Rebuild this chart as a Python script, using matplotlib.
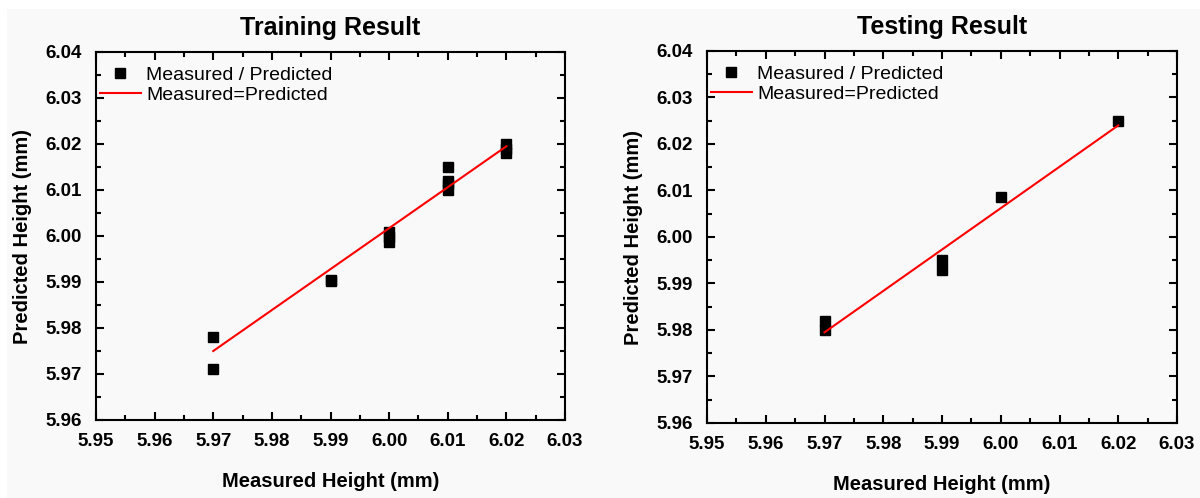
import matplotlib.pyplot as plt
from matplotlib.patches import Rectangle
from matplotlib.ticker import MultipleLocator, FormatStrFormatter

plt.rcParams['font.family'] = ['Liberation Sans', 'DejaVu Sans']

# training data
train_measured = [5.97, 5.97, 5.99, 5.99, 6.00, 6.00, 6.00, 6.01, 6.01, 6.01, 6.01, 6.02, 6.02, 6.02]
train_predicted = [5.978, 5.971, 5.9905, 5.9903, 6.0008, 5.9998, 5.9988, 6.015, 6.012, 6.0112, 6.010, 6.020, 6.019, 6.018]
train_fit_x = [5.97, 6.02]
train_fit_y = [5.975, 6.0195]

# testing data
test_measured = [5.97, 5.97, 5.99, 5.99, 6.00, 6.02]
test_predicted = [5.982, 5.980, 5.995, 5.993, 6.0085, 6.025]
test_fit_x = [5.97, 6.02]
test_fit_y = [5.9795, 6.024]

BG = "#f9f9f9"
W, H = 1200, 498

fig = plt.figure(figsize=(12, 4.98), dpi=100, facecolor="white")
# light grey page with a thin white margin on top / left
fig.patches.append(Rectangle((7 / W, 0), 1 - 7 / W, 1 - 9 / H, transform=fig.transFigure,
                             facecolor=BG, edgecolor="none", zorder=-10))

ax1 = fig.add_axes([96 / W, 1 - 420 / H, 469 / W, 368 / H])
ax2 = fig.add_axes([707 / W, 1 - 423 / H, 470 / W, 372 / H])


def style(ax, title, mx, my, fx, fy):
    ax.set_facecolor(BG)
    ax.plot(mx, my, linestyle="none", marker="s", markersize=6.5, color="black",
            label="Measured / Predicted")
    ax.plot(fx, fy, color="red", linewidth=1.5, label="Measured=Predicted")
    ax.set_xlim(5.95, 6.03)
    ax.set_ylim(5.96, 6.04)
    ax.xaxis.set_major_locator(MultipleLocator(0.01))
    ax.xaxis.set_minor_locator(MultipleLocator(0.005))
    ax.yaxis.set_major_locator(MultipleLocator(0.01))
    ax.yaxis.set_minor_locator(MultipleLocator(0.005))
    ax.xaxis.set_major_formatter(FormatStrFormatter("%.2f"))
    ax.yaxis.set_major_formatter(FormatStrFormatter("%.2f"))
    ax.tick_params(which="both", direction="in", top=True, right=True, width=1.5)
    ax.tick_params(which="major", length=6, labelsize=13.5)
    ax.tick_params(which="minor", length=3.5)
    ax.tick_params(axis="x", which="major", pad=9)
    ax.tick_params(axis="y", which="major", pad=10)
    for lab in ax.get_xticklabels() + ax.get_yticklabels():
        lab.set_fontweight("bold")
    for s in ax.spines.values():
        s.set_linewidth(1.5)
    ax.set_title(title, fontsize=18, fontweight="bold", pad=12)
    ax.set_xlabel("Measured Height (mm)", fontsize=14.5, fontweight="bold", labelpad=16)
    ax.set_ylabel("Predicted Height (mm)", fontsize=14.5, fontweight="bold", labelpad=10)
    ax.legend(loc="upper left", bbox_to_anchor=(0.008, 0.962), frameon=False,
              fontsize=14, handlelength=2.1, handletextpad=0.3, labelspacing=0.15,
              borderpad=0, borderaxespad=0)


style(ax1, "Training Result", train_measured, train_predicted, train_fit_x, train_fit_y)
style(ax2, "Testing Result", test_measured, test_predicted, test_fit_x, test_fit_y)

fig.savefig("out.png", dpi=100, facecolor="white")
